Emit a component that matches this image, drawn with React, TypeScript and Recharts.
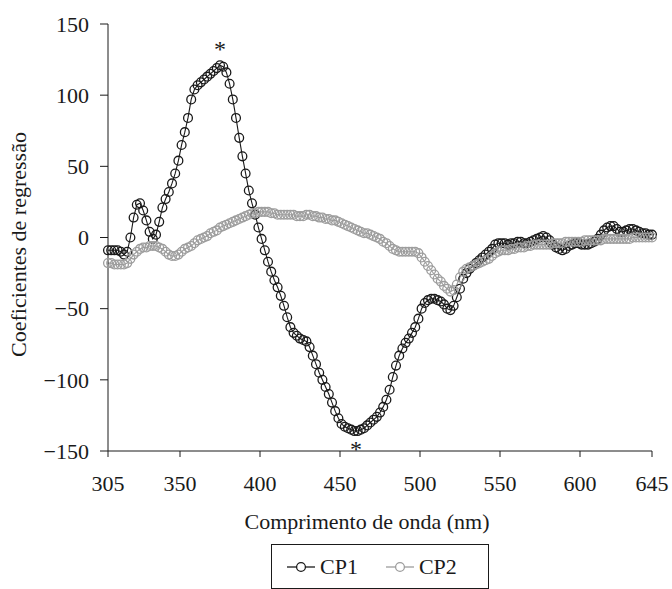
import { Label, Line, LineChart, Legend, ReferenceDot, XAxis, YAxis } from "recharts";

// wavelength grid, 2 nm steps from 305 to 645
const START_NM = 305;
const STEP_NM = 2;

const CP1 = [
  -9, -9, -9, -9, -10, -12, -10, 0, 14, 23,
  24, 19, 12, 4, -1, 2, 11, 21, 27, 32,
  38, 45, 54, 65, 74, 84, 97, 104, 107, 109,
  111, 113, 115, 117, 119, 121, 120, 116, 108, 97,
  84, 70, 57, 45, 33, 24, 16, 7, -1, -9,
  -17, -24, -30, -35, -41, -48, -56, -63, -67, -69,
  -71, -72, -73, -77, -83, -89, -95, -100, -105, -110,
  -116, -122, -127, -131, -133, -134, -135, -136, -136, -135,
  -134, -132, -130, -128, -126, -123, -119, -114, -107, -98,
  -90, -83, -78, -74, -71, -67, -63, -57, -50, -46,
  -44, -43, -43, -44, -45, -47, -50, -51, -48, -42,
  -36, -29, -25, -22, -20, -18, -16, -14, -12, -10,
  -8, -5, -4, -4, -4, -5, -4, -4, -3, -3,
  -4, -4, -3, -2, -1, 0, 1, 0, -2, -5,
  -7, -8, -9, -8, -6, -5, -4, -4, -5, -5,
  -5, -4, -3, -1, 2, 5, 7, 8, 8, 6,
  4, 4, 5, 6, 6, 5, 4, 3, 3, 2,
  2,
];

const CP2 = [
  -18, -18, -19, -19, -19, -19, -18, -15, -12, -10,
  -8, -7, -7, -6, -6, -6, -7, -8, -10, -12,
  -13, -13, -12, -10, -8, -7, -6, -4, -2, -1,
  0, 1, 3, 4, 5, 7, 8, 9, 10, 11,
  12, 13, 14, 15, 16, 17, 17, 18, 18, 18,
  18, 17, 17, 16, 16, 16, 16, 16, 16, 15,
  15, 15, 16, 16, 15, 15, 14, 14, 13, 13,
  12, 12, 11, 10, 9, 8, 7, 6, 5, 4,
  3, 3, 2, 1, 0, -1, -3, -4, -6, -8,
  -9, -10, -10, -10, -10, -10, -10, -11, -14, -17,
  -20, -23, -26, -29, -31, -34, -36, -38, -37, -33,
  -28, -24, -22, -21, -20, -19, -18, -17, -16, -15,
  -13, -11, -10, -9, -9, -9, -8, -8, -7, -7,
  -7, -6, -6, -5, -5, -5, -5, -5, -5, -4,
  -4, -4, -4, -3, -3, -3, -3, -3, -3, -2,
  -2, -2, -2, -2, -2, -1, -1, -1, -1, -1,
  -1, -1, -1, -1, 0, 0, 0, 0, 0, 0,
  0,
];

const X_TICKS = [305, 350, 400, 450, 500, 550, 600, 645];
const Y_TICKS = [-150, -100, -50, 0, 50, 100, 150];

// marked extremes (asterisks)
const PEAK = { nm: 375, value: 121 };
const TROUGH = { nm: 460, value: -136 };

const BLACK = "#1a1a1a";
const GREY = "#9d9d9d";
const FONT = "'Liberation Serif', 'DejaVu Serif', serif";

const data = CP1.map((v, i) => ({ nm: START_NM + i * STEP_NM, cp1: v, cp2: CP2[i] }));

const fmt = (v: number) => (v < 0 ? `\u2212${Math.abs(v)}` : `${v}`);

const RingDot = (color: string) => (props: any) => {
  const { cx, cy, index } = props;
  if (cx == null || cy == null) return null;
  return <circle key={index} cx={cx} cy={cy} r={4.4} fill="none" stroke={color} strokeWidth={1.3} />;
};

function LegendBox() {
  const item = (name: string, color: string, ml: number) => (
    <span style={{ display: "inline-flex", alignItems: "center", marginLeft: ml }}>
      <svg width={28} height={12} style={{ marginRight: 5 }}>
        <line x1={0} y1={6} x2={28} y2={6} stroke={color} strokeWidth={1.3} />
        <circle cx={14} cy={6} r={4.4} fill="#fff" stroke={color} strokeWidth={1.3} />
      </svg>
      <span style={{ color: BLACK }}>{name}</span>
    </span>
  );
  return (
    <div
      style={{
        border: `1px solid ${BLACK}`,
        height: 45,
        boxSizing: "border-box",
        display: "flex",
        alignItems: "center",
        fontFamily: FONT,
        fontSize: 22,
      }}
    >
      {item("CP1", BLACK, 15)}
      {item("CP2", GREY, 28)}
    </div>
  );
}

export default function App() {
  return (
    <div style={{ width: 672, height: 589, background: "#fff" }}>
      <style>{"body{margin:0}"}</style>
      <LineChart width={672} height={589} data={data} margin={{ top: 24, right: 20, bottom: 48, left: 0 }}>
        <XAxis
          dataKey="nm"
          type="number"
          domain={[305, 645]}
          ticks={X_TICKS}
          interval={0}
          stroke={BLACK}
          tickSize={6}
          tickMargin={18}
          height={90}
          tick={{ fill: BLACK, fontSize: 22, fontFamily: FONT }}
        >
          <Label
            value="Comprimento de onda (nm)"
            position="insideBottom"
            offset={12}
            dx={-13}
            style={{ fill: BLACK, fontSize: 22, fontFamily: FONT }}
          />
        </XAxis>
        <YAxis
          type="number"
          domain={[-150, 150]}
          ticks={Y_TICKS}
          interval={0}
          stroke={BLACK}
          tickSize={8}
          tickMargin={11}
          width={108}
          tickFormatter={fmt}
          tick={{ fill: BLACK, fontSize: 22, fontFamily: FONT }}
        >
          <Label
            value="Coeficientes de regressão"
            angle={-90}
            position="insideLeft"
            offset={18}
            dy={7}
            style={{ fill: BLACK, fontSize: 22, fontFamily: FONT, textAnchor: "middle" }}
          />
        </YAxis>
        <Line
          dataKey="cp1"
          name="CP1"
          stroke={BLACK}
          strokeWidth={1.1}
          dot={RingDot(BLACK)}
          activeDot={false}
          isAnimationActive={false}
        />
        <Line
          dataKey="cp2"
          name="CP2"
          stroke={GREY}
          strokeWidth={1.1}
          dot={RingDot(GREY)}
          activeDot={false}
          isAnimationActive={false}
        />
        <ReferenceDot
          x={PEAK.nm}
          y={PEAK.value}
          r={0}
          label={{ value: "*", position: "top", offset: 8, fill: BLACK, style: { fill: BLACK, fontSize: 24, fontFamily: FONT } }}
        />
        <ReferenceDot
          x={TROUGH.nm}
          y={TROUGH.value}
          r={0}
          label={{ value: "*", position: "bottom", offset: 9, fill: BLACK, style: { fill: BLACK, fontSize: 24, fontFamily: FONT } }}
        />
        <Legend
          layout="horizontal"
          verticalAlign="middle"
          align="center"
          wrapperStyle={{ top: 544, left: 271, width: 218 }}
          content={() => <LegendBox />}
        />
      </LineChart>
    </div>
  );
}
